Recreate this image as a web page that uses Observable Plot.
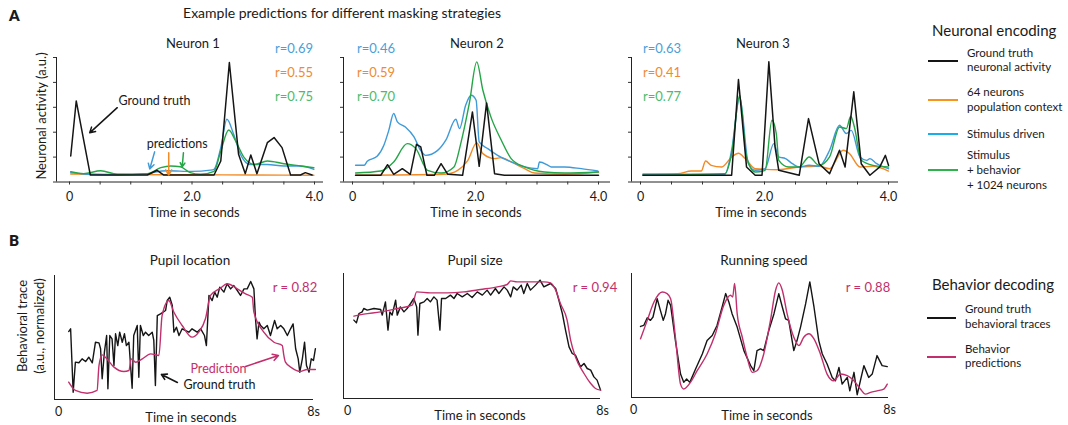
<!DOCTYPE html>
<html><head><meta charset="utf-8">
<script src="https://cdn.jsdelivr.net/npm/d3@7"></script>
<script src="https://cdn.jsdelivr.net/npm/@observablehq/plot@0.6"></script>
<style>
body{margin:0;background:#fff;font-family:Lato,"Noto Sans",sans-serif;color:#1a1a1a}
#fig{position:relative;width:1068px;height:425px;overflow:hidden;background:#fff}
.t{position:absolute;white-space:nowrap;line-height:1}
.panel{position:absolute}
.lg{position:absolute;height:2px}
</style></head><body><div id="fig"></div><script>
// ---------------- DATA ----------------
const colors = {gt:"#151515", pop:"#f28a25", stim:"#3f9ad8", full:"#24a546", beh:"#c1306c"};
const rColors = {stim:"#4a9fd8", pop:"#f08a30", full:"#4cbb6a"};
const legendColors = {gt:"#151515", pop:"#f7941d", stim:"#1aaee8", full:"#2db34a"};

// Neuron 1  [time s, activity a.u.]
const n1Truth = [[0.02,20.9],[0.11,65.1],[0.34,5.6],[0.51,5.6],[1.27,5.6],[1.43,9.4],[1.54,5.6],[2.36,5.6],[2.47,16.9],[2.61,96],[2.76,22.3],[2.87,6.7],[2.96,21.7],[3.06,6.7],[3.23,31.6],[3.34,35.7],[3.47,27.6],[3.61,5.6],[3.77,5.6],[3.85,7.5],[3.96,5.6]];
const n1Stim = [[0.02,7.5],[0.3,6.2],[0.8,5.6],[1.27,6.5],[1.4,8],[1.6,9],[2.0,8.5],[2.3,9.5],[2.36,10.2],[2.47,27.6],[2.57,50.4],[2.68,38.3],[2.79,22.3],[2.95,14],[3.23,14],[3.5,12.9],[3.77,12.9],[3.99,10.2]];
const n1Full = [[0.02,8.3],[0.23,6.7],[0.51,9],[0.78,6.2],[1.27,6.7],[1.49,11.5],[1.65,12.9],[1.81,12.3],[1.97,7.5],[2.14,6.2],[2.36,8.6],[2.47,24.9],[2.6,41.8],[2.71,33.2],[2.85,19.8],[3.02,14],[3.23,16.9],[3.5,14.7],[3.77,12.9],[3.99,11.5]];
const n1Pop = [[0.02,6.4],[1.0,6.0],[2.0,5.8],[3.0,5.6],[3.99,5.4]];
// Neuron 2
const n2Truth = [[0.05,5.4],[0.46,5.4],[0.57,13.9],[0.67,6.2],[0.81,10.7],[0.94,6.2],[1.04,30.3],[1.11,28.2],[1.21,5.4],[1.33,5.4],[1.44,14.7],[1.55,6.2],[1.79,5.4],[1.95,56.3],[2.06,12.6],[2.18,63.5],[2.31,6.7],[2.47,5.4],[4.0,5.4]];
const n2Stim = [[0.05,13.4],[0.19,13.4],[0.24,16.6],[0.4,20.6],[0.51,29.5],[0.59,41.5],[0.67,55],[0.73,48.3],[0.86,44.2],[1.0,36.2],[1.11,25.2],[1.19,21.4],[1.38,25.2],[1.52,33.8],[1.68,50.4],[1.74,42.9],[1.84,61.7],[1.93,69.7],[2.01,65.7],[2.06,32.2],[2.2,26.8],[2.36,21.4],[2.58,16.1],[2.8,12.1],[3.01,10.7],[3.04,16.1],[3.18,13.4],[3.23,12.1],[3.45,12.1],[3.72,10.7],[3.99,8.8]];
const n2Full = [[0.05,7.2],[0.46,8.8],[0.67,16.1],[0.89,30.8],[1.03,26.8],[1.22,9.4],[1.44,7.2],[1.65,12.1],[1.76,30.8],[1.9,63.3],[2.02,96.5],[2.12,73.7],[2.25,52.3],[2.42,33.5],[2.58,18.8],[2.8,12.1],[3.12,8.0],[3.45,7.2],[4.0,8.0]];
const n2Pop = [[0.05,5.4],[1.49,6.2],[1.71,9.4],[1.87,16.9],[2.02,31.4],[2.12,22.8],[2.31,18.8],[2.42,19.6],[2.58,16.1],[2.8,10.7],[2.96,7.2],[3.45,6.2],[4.0,8.0]];
// Neuron 3
const n3Truth = [[0.04,5.4],[1.47,5.4],[1.58,82.3],[1.71,12.1],[1.85,5.4],[1.96,5.4],[2.07,96.5],[2.17,28.2],[2.23,9.4],[2.56,5.4],[2.71,50.9],[2.88,14.7],[3.05,6.7],[3.21,25.5],[3.3,12.1],[3.44,72.4],[3.56,14.7],[3.7,5.4],[3.86,12.1],[3.95,21.4],[4.0,13.4]];
const n3Stim = [[0.04,6.2],[1.36,6.2],[1.47,25.5],[1.6,68.1],[1.74,14.7],[1.85,9.4],[2.01,10.7],[2.15,30.8],[2.23,20.1],[2.34,18.8],[2.45,14.7],[2.56,12.1],[2.72,13.4],[2.88,12.6],[3.05,25.5],[3.21,45.6],[3.32,38.9],[3.4,41.5],[3.54,20.1],[3.65,17.4],[3.7,18.8],[3.81,14.7],[4.0,10.7]];
const n3Full = [[0.04,5.4],[1.36,6.7],[1.47,22.8],[1.6,69.7],[1.71,20.1],[1.85,8.0],[2.01,9.4],[2.12,49.6],[2.19,38.9],[2.23,17.4],[2.39,12.1],[2.56,12.1],[2.72,20.1],[2.88,13.4],[3.05,20.1],[3.21,44.2],[3.32,42.9],[3.39,52.8],[3.45,44.2],[3.56,17.4],[3.75,13.4],[4.0,12.1]];
const n3Pop = [[0.04,6.2],[0.6,6.7],[0.82,8.8],[0.98,8.8],[1.05,16.9],[1.14,13.4],[1.31,12.1],[1.47,20.1],[1.58,23.1],[1.69,18.8],[1.85,10.7],[2.23,9.9],[2.56,12.1],[2.88,12.6],[3.05,10.7],[3.27,25.5],[3.37,22.8],[3.54,12.1],[3.75,12.6],[4.0,8.8]];

// Behavior: pupil location
const pupilLocTruth = [[0.32,54.8],[0.38,57.0],[0.46,5.9],[0.53,30.1],[0.64,29.6],[0.74,32.8],[0.85,30.6],[0.95,34.1],[1.06,29.6],[1.16,46.2],[1.27,45.7],[1.32,40.9],[1.37,16.7],[1.44,38.2],[1.51,51.6],[1.55,8.6],[1.61,51.6],[1.68,48.9],[1.74,27.4],[1.79,53.0],[1.86,43.5],[1.92,54.3],[2.0,46.2],[2.07,53.0],[2.13,43.5],[2.21,46.2],[2.31,9.1],[2.36,51.6],[2.47,59.7],[2.52,18.0],[2.57,59.7],[2.66,51.6],[2.73,54.3],[2.83,51.6],[2.94,54.3],[2.99,47.6],[3.04,11.3],[3.1,67.7],[3.2,69.1],[3.36,71.8],[3.41,79.8],[3.49,82.5],[3.57,75.8],[3.62,54.3],[3.7,58.3],[3.78,51.6],[3.88,57.0],[3.99,55.6],[4.09,54.3],[4.19,57.0],[4.35,54.3],[4.46,57.0],[4.58,51.6],[4.64,43.5],[4.72,83.9],[4.82,79.8],[4.9,86.6],[4.98,82.5],[5.06,90.6],[5.19,86.6],[5.29,93.3],[5.4,89.2],[5.5,91.9],[5.61,87.9],[5.71,83.9],[5.82,89.2],[5.92,89.2],[6.03,95.2],[6.13,89.2],[6.18,65.1],[6.23,48.9],[6.29,62.4],[6.34,59.7],[6.44,57.0],[6.55,59.7],[6.65,51.6],[6.78,63.7],[6.86,57.0],[6.97,59.7],[7.07,57.0],[7.18,51.6],[7.28,57.0],[7.36,61.0],[7.44,40.9],[7.52,32.8],[7.57,22.0],[7.65,32.8],[7.72,46.2],[7.78,27.4],[7.86,22.0],[7.93,32.8],[8.0,31.5],[8.06,41.0]];
const pupilLocPred = [[0.32,14.0],[0.53,7.3],[0.9,5.1],[1.21,7.3],[1.27,27.4],[1.37,36.0],[1.47,34.1],[1.74,26.1],[2.05,22.6],[2.21,23.4],[2.28,32.8],[2.42,30.1],[2.63,32.8],[2.89,36.8],[3.15,35.5],[3.25,67.7],[3.46,79.8],[3.62,70.4],[3.88,59.7],[4.19,50.3],[4.4,54.3],[4.61,65.1],[4.77,83.9],[5.08,89.8],[5.29,93.3],[5.61,89.2],[5.87,85.2],[6.08,82.5],[6.13,70.4],[6.44,54.3],[6.76,46.2],[7.02,43.5],[7.07,35.5],[7.12,30.1],[7.33,25.3],[7.59,22.6],[7.8,24.2],[8.06,24.2]];
// pupil size
const pupilSizeTruth = [[0.2,62.7],[0.28,60.5],[0.36,68.0],[0.46,69.3],[0.51,72.0],[0.62,70.7],[0.83,72.0],[1.04,71.2],[1.09,66.7],[1.19,77.3],[1.27,54.7],[1.33,69.3],[1.4,66.7],[1.51,78.7],[1.56,66.7],[1.66,73.3],[1.77,69.3],[1.87,72.0],[1.98,76.0],[2.08,80.0],[2.17,73.3],[2.21,50.7],[2.27,76.0],[2.4,77.3],[2.5,80.0],[2.6,77.3],[2.71,81.3],[2.81,78.7],[2.9,54.7],[2.95,80.0],[3.08,80.0],[3.23,82.7],[3.34,80.0],[3.44,84.0],[3.6,81.3],[3.76,84.0],[3.91,80.8],[4.07,85.3],[4.23,82.7],[4.38,86.7],[4.49,82.7],[4.64,88.0],[4.75,84.0],[4.91,89.3],[5.01,86.7],[5.12,81.3],[5.2,89.3],[5.32,86.7],[5.45,90.7],[5.53,84.0],[5.64,92.0],[5.74,86.7],[5.9,90.7],[6.04,94.7],[6.16,89.3],[6.37,92.0],[6.53,88.0],[6.63,78.7],[6.74,68.0],[6.84,54.7],[6.95,41.3],[7.05,36.0],[7.15,34.7],[7.31,25.3],[7.42,28.0],[7.52,24.0],[7.63,22.7],[7.73,17.3],[7.83,14.7],[7.94,6.7]];
const pupilSizePred = [[0.2,65.9],[0.51,67.5],[1.04,69.3],[1.56,72.0],[2.03,74.7],[2.17,85.3],[2.6,84.5],[3.13,84.5],[3.65,85.3],[4.17,87.2],[4.7,89.3],[5.01,91.2],[5.12,94.1],[5.32,93.3],[5.74,93.3],[6.16,93.3],[6.37,92.5],[6.53,86.7],[6.68,76.0],[6.89,62.7],[7.0,46.7],[7.15,33.3],[7.42,20.0],[7.63,12.0],[7.78,8.0],[7.94,6.7]];
// running speed
const runTruth = [[0.22,57.3],[0.32,58.1],[0.43,64.3],[0.53,62.2],[0.61,64.9],[0.74,79.7],[0.84,70.3],[0.93,62.2],[1.0,67.6],[1.08,78.4],[1.16,74.3],[1.31,45.9],[1.47,18.9],[1.57,12.2],[1.66,14.9],[1.76,12.2],[1.94,23.0],[2.15,35.1],[2.3,45.9],[2.46,50.0],[2.61,58.1],[2.77,73.0],[2.88,83.8],[2.98,77.0],[3.08,67.6],[3.24,56.8],[3.45,37.8],[3.66,25.7],[3.76,21.6],[3.86,37.8],[3.97,39.2],[4.07,37.8],[4.23,54.1],[4.39,67.6],[4.54,83.8],[4.65,73.0],[4.75,63.5],[4.85,62.2],[5.01,37.8],[5.11,45.9],[5.22,56.8],[5.38,75.7],[5.51,93.2],[5.64,73.0],[5.79,45.9],[5.9,35.1],[6.05,27.0],[6.21,16.2],[6.31,13.5],[6.42,24.3],[6.52,10.8],[6.68,16.2],[6.76,5.4],[6.89,20.3],[6.99,2.2],[7.09,13.5],[7.2,25.7],[7.35,16.2],[7.46,18.9],[7.61,33.8],[7.77,25.7],[7.93,24.9]];
const runPred = [[0.22,47.3],[0.43,62.2],[0.64,77.0],[0.9,85.1],[1.05,83.8],[1.16,79.7],[1.31,48.6],[1.47,10.8],[1.57,6.8],[1.78,12.2],[1.99,21.6],[2.3,35.1],[2.56,51.4],[2.82,74.3],[3.03,82.4],[3.1,81.1],[3.16,91.9],[3.24,67.6],[3.4,48.6],[3.55,32.4],[3.71,20.3],[3.86,21.6],[4.07,35.1],[4.28,62.2],[4.44,86.5],[4.54,92.4],[4.65,86.5],[4.8,67.6],[5.01,48.6],[5.17,41.9],[5.32,48.6],[5.48,51.4],[5.64,47.3],[5.84,35.1],[6.05,18.9],[6.26,13.5],[6.47,18.9],[6.68,17.6],[6.89,13.5],[7.09,6.8],[7.25,2.7],[7.41,4.1],[7.61,5.4],[7.82,6.8],[7.93,10.8]];

// tick labels
const xTicksA = [0,0.5,1,1.5,2,2.5,3,3.5,4];
const xLabelValuesA = [0,2,4];
const xLabelsA = ["0","2.0","4.0"];
const yTicksA = [0,20,40,60,80,100];
const xLabelValuesB = [0,8];
const xLabelsB = ["0","8s"];

const neuronTitles = ["Neuron 1","Neuron 2","Neuron 3"];
const neuronR = [["r=0.69","r=0.55","r=0.75"],["r=0.46","r=0.59","r=0.70"],["r=0.63","r=0.41","r=0.77"]];
const behTitles = ["Pupil location","Pupil size","Running speed"];
const behR = ["r = 0.82","r = 0.94","r = 0.88"];
const legendATitle = "Neuronal encoding";
const legendALabels = [["Ground truth","neuronal activity"],["64 neurons","population context"],["Stimulus driven"],["Stimulus","+ behavior","+ 1024 neurons"]];
const legendBTitle = "Behavior decoding";
const legendBLabels = [["Ground truth","behavioral traces"],["Behavior","predictions"]];

// annotations (data coordinates of their panels)
const n1Notes = [{x:0.8,y:65.3,text:"Ground truth"},{x:1.26,y:30.6,text:"predictions"}];
const n1Arrows = [{x1:0.78,y1:59.7,x2:0.33,y2:39.5,c:"gt"},{x1:1.39,y1:24.2,x2:1.31,y2:10.5,c:"stim"},{x1:1.62,y1:23.4,x2:1.62,y2:5.6,c:"pop"},{x1:1.86,y1:23.4,x2:1.84,y2:12.1,c:"full"}];
const bNotes = [{x:4.14,y:25,text:"Prediction",c:"beh"},{x:3.92,y:11.3,text:"Ground truth",c:"gt"}];
const bArrows = [{x1:5.87,y1:26.6,x2:6.9,y2:35.5,c:"beh"},{x1:3.73,y1:13.7,x2:3.23,y2:20.2,c:"gt"}];

// ---------------- LAYOUT ----------------
const fig = document.getElementById("fig");
const FONT = "Lato, 'Noto Sans', sans-serif";
function txt(s, x, y, o = {}) {
  const d = document.createElement("div");
  d.className = "t";
  d.textContent = s;
  d.style.left = x + "px"; d.style.top = y + "px";
  d.style.fontSize = (o.size || 13) + "px";
  if (o.color) d.style.color = o.color;
  if (o.weight) d.style.fontWeight = o.weight;
  const tx = o.anchor === "start" ? "0" : "-50%";
  d.style.transform = `translate(${tx},-50%)` + (o.rotate ? ` rotate(${o.rotate}deg)` : "");
  fig.appendChild(d);
}
function lgLine(x1, x2, y, c) {
  const d = document.createElement("div");
  d.className = "lg";
  d.style.left = x1 + "px"; d.style.width = (x2 - x1) + "px"; d.style.top = (y - 1) + "px";
  d.style.background = c;
  fig.appendChild(d);
}

function panel(cfg) {
  const {L, T, W, H, axisLeft, axisRight, yTop, yBottom, xStart, xEnd, domain, lines, kind, extra = []} = cfg;
  const tLeft = domain[0] + (axisLeft - xStart) / (xEnd - xStart) * (domain[1] - domain[0]);
  const marks = [];
  for (const ln of lines) {
    marks.push(Plot.line(ln.data, {x: d => d[0], y: d => d[1], stroke: ln.color, strokeWidth: ln.w || 1.4, curve: ln.curve || "linear", strokeLinejoin: "round"}));
  }
  marks.push(Plot.ruleY([0], {stroke: "#222", strokeWidth: 1}));
  marks.push(Plot.ruleX([tLeft], {stroke: "#222", strokeWidth: 1}));
  if (kind === "A") {
    marks.push(Plot.axisX({ticks: xTicksA, tickSize: 3, tickFormat: () => "", stroke: "#333"}));
    marks.push(Plot.axisX({ticks: xLabelValuesA, tickSize: 0, tickPadding: 10, fontSize: 12.5, tickFormat: d => xLabelsA[xLabelValuesA.indexOf(d)]}));
    marks.push(Plot.axisY({ticks: yTicksA, tickSize: 3, tickFormat: () => "", stroke: "#333"}));
  } else {
    marks.push(Plot.axisX({ticks: xLabelValuesB, tickSize: 0, tickPadding: 8, fontSize: 12.5, tickFormat: d => xLabelsB[xLabelValuesB.indexOf(d)]}));
  }
  marks.push(...extra);
  const svg = Plot.plot({
    width: W, height: H,
    marginLeft: axisLeft - L, marginRight: L + W - axisRight,
    marginTop: yTop - T, marginBottom: T + H - yBottom,
    x: {domain, range: [xStart - L, xEnd - L]},
    y: {domain: [0, 100], axis: kind === "A" ? undefined : null},
    style: {background: "transparent", overflow: "visible", fontFamily: FONT, color: "#1a1a1a"},
    marks
  });
  svg.classList.add("panel");
  svg.style.left = L + "px"; svg.style.top = T + "px";
  fig.appendChild(svg);
}

// Panel A
const aSeries = [[n1Pop,n1Stim,n1Full,n1Truth],[n2Pop,n2Stim,n2Full,n2Truth],[n3Pop,n3Stim,n3Full,n3Truth]];
const aGeo = [
  {L:36, axisLeft:56, axisRight:323, xStart:69, xEnd:314},
  {L:323, axisLeft:343, axisRight:610, xStart:352, xEnd:598},
  {L:611, axisLeft:631, axisRight:898, xStart:640, xEnd:888}
];
aGeo.forEach((g, i) => {
  const [pop, stim, full, truth] = aSeries[i];
  const extra = i === 0 ? [
    Plot.arrow(n1Arrows, {x1:"x1", y1:"y1", x2:"x2", y2:"y2", stroke: d => colors[d.c], strokeWidth: 1.5, headLength: 6}),
    Plot.text(n1Notes, {x:"x", y:"y", text:"text", textAnchor:"start", fontSize: 12.5, fill:"#1a1a1a"})
  ] : [];
  panel({...g, T:50, W:300, H:170, yTop:57, yBottom:181.5, domain:[0,4], kind:"A", extra,
    lines: [
      {data: pop, color: colors.pop, curve: "monotone-x"},
      {data: stim, color: colors.stim, curve: "monotone-x"},
      {data: full, color: colors.full, curve: "monotone-x"},
      {data: truth, color: colors.gt, w: 1.5}
    ]});
});
// Panel B
const bSeries = [[pupilLocTruth,pupilLocPred],[pupilSizeTruth,pupilSizePred],[runTruth,runPred]];
const bGeo = [
  {L:34, axisLeft:54, axisRight:313, yTop:275, yBottom:399, xStart:58, xEnd:313},
  {L:323, axisLeft:343, axisRight:600, yTop:273, yBottom:398, xStart:347, xEnd:602},
  {L:611, axisLeft:631, axisRight:888, yTop:273, yBottom:397, xStart:633, xEnd:889}
];
bGeo.forEach((g, i) => {
  const [truth, pred] = bSeries[i];
  const extra = i === 0 ? [
    Plot.arrow(bArrows, {x1:"x1", y1:"y1", x2:"x2", y2:"y2", stroke: d => colors[d.c], strokeWidth: 1.6, headLength: 6}),
    Plot.text(bNotes, {x:"x", y:"y", text:"text", textAnchor:"start", fontSize: d => 12.5, fill: d => colors[d.c]})
  ] : [];
  panel({...g, T:265, W:290, H:160, domain:[0,8], kind:"B", extra,
    lines: [
      {data: truth, color: colors.gt, w: 1.4},
      {data: pred, color: colors.beh, w: 1.4, curve: "monotone-x"}
    ]});
});

// ---------------- TEXT ----------------
txt("A", 9, 15, {anchor:"start", size:15, weight:800});
txt("B", 9, 240, {anchor:"start", size:15, weight:800});
txt("Example predictions for different masking strategies", 342, 13, {size:14});
const aTitleX = [193, 477, 763];
const aRX = [275, 357, 643];
neuronTitles.forEach((s, i) => {
  txt(s, aTitleX[i], 43, {size:13});
  const rc = [rColors.stim, rColors.pop, rColors.full];
  [48, 72, 96].forEach((y, k) => txt(neuronR[i][k], aRX[i], y, {anchor:"start", size:13, color: rc[k]}));
});
[194, 476, 761].forEach(x => txt("Time in seconds", x, 212, {size:13}));
txt("Neuronal  activity (a.u.)", 41, 116, {size:13, rotate:-90});

const bTitleX = [190, 475, 764];
const bRX = [295, 595, 868];
behTitles.forEach((s, i) => {
  txt(s, bTitleX[i], 261, {size:13.5});
  txt(behR[i], bRX[i], 287, {size:13, color: colors.beh});
});
[[191,417],[480,415],[767,415]].forEach(([x, y]) => txt("Time in seconds", x, y, {size:13}));
txt("Behavioral trace", 22, 326, {size:13, rotate:-90});
txt("(a.u., normalized)", 39, 326, {size:13, rotate:-90});

// legends
txt(legendATitle, 932, 30, {anchor:"start", size:15});
const lgAKeys = ["gt","pop","stim","full"];
const lgAY = [61, 100, 134, 170];
const lgAText = [[53,67],[92,107],[134],[155,170,185]];
lgAKeys.forEach((k, i) => {
  lgLine(928, 958, lgAY[i], legendColors[k]);
  legendALabels[i].forEach((s, j) => txt(s, 967, lgAText[i][j], {anchor:"start", size:11.5}));
});
txt(legendBTitle, 932, 284, {anchor:"start", size:15});
const lgBY = [318, 357];
const lgBText = [[309,324],[349,363]];
["gt","beh"].forEach((k, i) => {
  lgLine(927, 956, lgBY[i], colors[k]);
  legendBLabels[i].forEach((s, j) => txt(s, 965, lgBText[i][j], {anchor:"start", size:11.5}));
});
</script></body></html>
